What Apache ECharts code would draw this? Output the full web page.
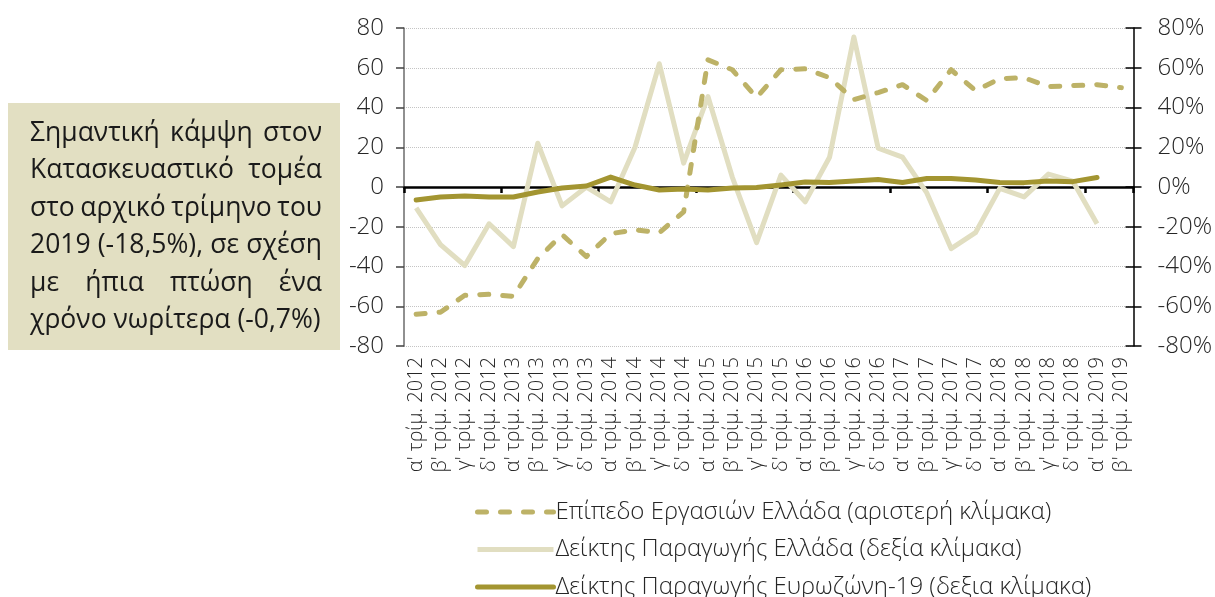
<!DOCTYPE html>
<html>
<head>
<meta charset="utf-8">
<script src="https://cdn.jsdelivr.net/npm/echarts@6/dist/echarts.min.js"></script>
<style>
  html, body { margin: 0; padding: 0; background: #ffffff; }
  #chart { width: 1215px; height: 597px; }
</style>
</head>
<body>
<div id="chart"></div>
<script>
// Quarterly categories
const quarters = [
  "α' τρίμ. 2012", "β' τρίμ. 2012", "γ' τρίμ. 2012", "δ' τρίμ. 2012",
  "α' τρίμ. 2013", "β' τρίμ. 2013", "γ' τρίμ. 2013", "δ' τρίμ. 2013",
  "α' τρίμ. 2014", "β' τρίμ. 2014", "γ' τρίμ. 2014", "δ' τρίμ. 2014",
  "α' τρίμ. 2015", "β' τρίμ. 2015", "γ' τρίμ. 2015", "δ' τρίμ. 2015",
  "α' τρίμ. 2016", "β' τρίμ. 2016", "γ' τρίμ. 2016", "δ' τρίμ. 2016",
  "α' τρίμ. 2017", "β' τρίμ. 2017", "γ' τρίμ. 2017", "δ' τρίμ. 2017",
  "α' τρίμ. 2018", "β' τρίμ. 2018", "γ' τρίμ. 2018", "δ' τρίμ. 2018",
  "α' τρίμ. 2019", "β' τρίμ. 2019"
];

// Business level, Greece (left scale)
const businessLevel = [
  -64, -63, -54.5, -54, -55, -36, -24, -35,
  -23.5, -21.5, -23, -12.5, 64, 59, 45, 59,
  59.5, 55, 44, 47.5, 51.5, 43.5, 59, 48.5,
  54.5, 55, 50.5, 51, 51.5, 50
];

// Production index, Greece, % (right scale)
const productionGreece = [
  -10.5, -29, -39.5, -18.5, -30, 22, -9.5, 0,
  -7.5, 20, 62, 12, 45.5, 5, -28, 6,
  -7.5, 15, 75.5, 19.5, 15, -3, -31, -23,
  -0.7, -5, 6.5, 3, -18.5
];

// Production index, Euro area-19, % (right scale)
const productionEurozone = [
  -6.5, -5, -4.5, -5, -5, -2.5, -0.5, 0.5,
  5, 1, -1.5, -1, -1.5, -0.5, -0.3, 1,
  2.5, 2.3, 3, 3.8, 2.3, 4.3, 4.3, 3.5,
  2.3, 2.2, 3, 2.7, 4.8
];

const seriesNames = [
  'Επίπεδο Εργασιών Ελλάδα (αριστερή κλίμακα)',
  'Δείκτης Παραγωγής Ελλάδα (δεξία κλίμακα)',
  'Δείκτης Παραγωγής Ευρωζώνη-19 (δεξια κλίμακα)'
];

const noteLines = [
  'Σημαντική κάμψη στον',
  'Κατασκευαστικό τομέα',
  'στο αρχικό τρίμηνο του',
  '2019 (-18,5%), σε σχέση',
  'με ήπια πτώση ένα',
  'χρόνο νωρίτερα (-0,7%)'
];

const FONT = '"Open Sans", "Noto Sans", sans-serif';
const COLORS = { business: '#BDB267', greece: '#E1DEC1', eurozone: '#A39531', box: '#E2DFC2' };

// Justified note text, one graphic element per word
const noteFontSize = 26.5;
const noteLeft = 30, noteRight = 322, noteTop = 133, noteStep = 37.5;
const measureCtx = document.createElement('canvas').getContext('2d');
measureCtx.font = noteFontSize + 'px ' + FONT;

function noteLineElements(line, index, justify) {
  const words = line.split(' ');
  const widths = words.map(w => measureCtx.measureText(w).width);
  const total = widths.reduce((a, b) => a + b, 0);
  const space = measureCtx.measureText(' ').width;
  const gap = justify && words.length > 1
    ? Math.max(space * 0.6, (noteRight - noteLeft - total) / (words.length - 1))
    : space;
  let x = noteLeft;
  const y = noteTop + index * noteStep;
  return words.map((w, i) => {
    const el = {
      type: 'text', x: x, y: y, z: 10,
      style: { text: w, fontSize: noteFontSize, fontFamily: FONT, fill: '#1a1a1a', verticalAlign: 'middle' }
    };
    x += widths[i] + gap;
    return el;
  });
}

const noteGraphics = [{
  type: 'rect', z: 5,
  shape: { x: 8, y: 103, width: 332, height: 247 },
  style: { fill: COLORS.box }
}];
noteLines.forEach((line, i) => {
  noteGraphics.push(...noteLineElements(line, i, i < noteLines.length - 1));
});

// One legend block per row, stacked under the plot
const legendRowTop = 500, legendRowStep = 37.5;
const legends = seriesNames.map((name, i) => ({
  data: [name],
  left: 475, top: legendRowTop + i * legendRowStep,
  padding: 0,
  itemWidth: 76, itemHeight: 24, itemGap: 0,
  selectedMode: false,
  itemStyle: { color: 'rgba(0,0,0,0)', borderWidth: 0 },
  lineStyle: { width: 5 },
  textStyle: { fontSize: 24, fontFamily: FONT, fontWeight: 300, color: '#262626', padding: [0, 0, 0, -3] }
}));

const chart = echarts.init(document.getElementById('chart'));
chart.setOption({
  animation: false,
  backgroundColor: '#ffffff',
  grid: { left: 404, right: 79, top: 28, bottom: 251 },
  legend: legends,
  xAxis: [
    {
      type: 'category', data: quarters, position: 'bottom',
      axisLine: { show: false, onZero: false },
      axisTick: { show: false },
      axisLabel: { rotate: 90, margin: 11, fontSize: 20, fontFamily: FONT, fontWeight: 300, color: '#262626', interval: 0 },
      splitLine: { show: false }
    },
    {
      type: 'category', data: quarters, position: 'bottom',
      axisLine: { show: true, onZero: true, lineStyle: { color: '#000000', width: 2.5 } },
      axisTick: { show: true, length: 6, lineStyle: { color: '#000000', width: 2.5 } },
      axisLabel: { show: false },
      splitLine: { show: false }
    }
  ],
  yAxis: [
    {
      type: 'value', position: 'left', min: -80, max: 80, interval: 20,
      axisLine: { show: true, onZero: false, lineStyle: { color: '#6b6b6b', width: 1.5 } },
      axisTick: { show: true, length: 8, lineStyle: { color: '#404040', width: 1.5 } },
      axisLabel: { margin: 20, fontSize: 24, fontFamily: FONT, fontWeight: 300, color: '#262626' },
      splitLine: { show: true, lineStyle: { color: '#c4c4c4', width: 1, type: 'dotted' } }
    },
    {
      type: 'value', position: 'right', min: -80, max: 80, interval: 20,
      axisLine: { show: true, onZero: false, lineStyle: { color: '#000000', width: 1.5 } },
      axisTick: { show: true, length: 8, lineStyle: { color: '#000000', width: 1.5 } },
      axisLabel: { margin: 24, fontSize: 24, fontFamily: FONT, fontWeight: 300, color: '#262626', formatter: v => v + '%' },
      splitLine: { show: false }
    },
    {
      type: 'value', position: 'right', min: -80, max: 80, interval: 20,
      axisLine: { show: false, onZero: false },
      axisTick: { show: true, inside: true, length: 8, lineStyle: { color: '#000000', width: 1.5 } },
      axisLabel: { show: false },
      splitLine: { show: false }
    }
  ],
  series: [
    {
      name: seriesNames[0], type: 'line', xAxisIndex: 0, yAxisIndex: 0,
      data: businessLevel, symbol: 'none', z: 3,
      lineStyle: { color: COLORS.business, width: 5, type: [9, 14], cap: 'round', join: 'round' },
      itemStyle: { color: COLORS.business }
    },
    {
      name: seriesNames[1], type: 'line', xAxisIndex: 0, yAxisIndex: 1,
      data: productionGreece, symbol: 'none', z: 2,
      lineStyle: { color: COLORS.greece, width: 5, join: 'round' },
      itemStyle: { color: COLORS.greece }
    },
    {
      name: seriesNames[2], type: 'line', xAxisIndex: 0, yAxisIndex: 1,
      data: productionEurozone, symbol: 'none', z: 4,
      lineStyle: { color: COLORS.eurozone, width: 5, cap: 'round', join: 'round' },
      itemStyle: { color: COLORS.eurozone }
    }
  ],
  graphic: noteGraphics
});
</script>
</body>
</html>
